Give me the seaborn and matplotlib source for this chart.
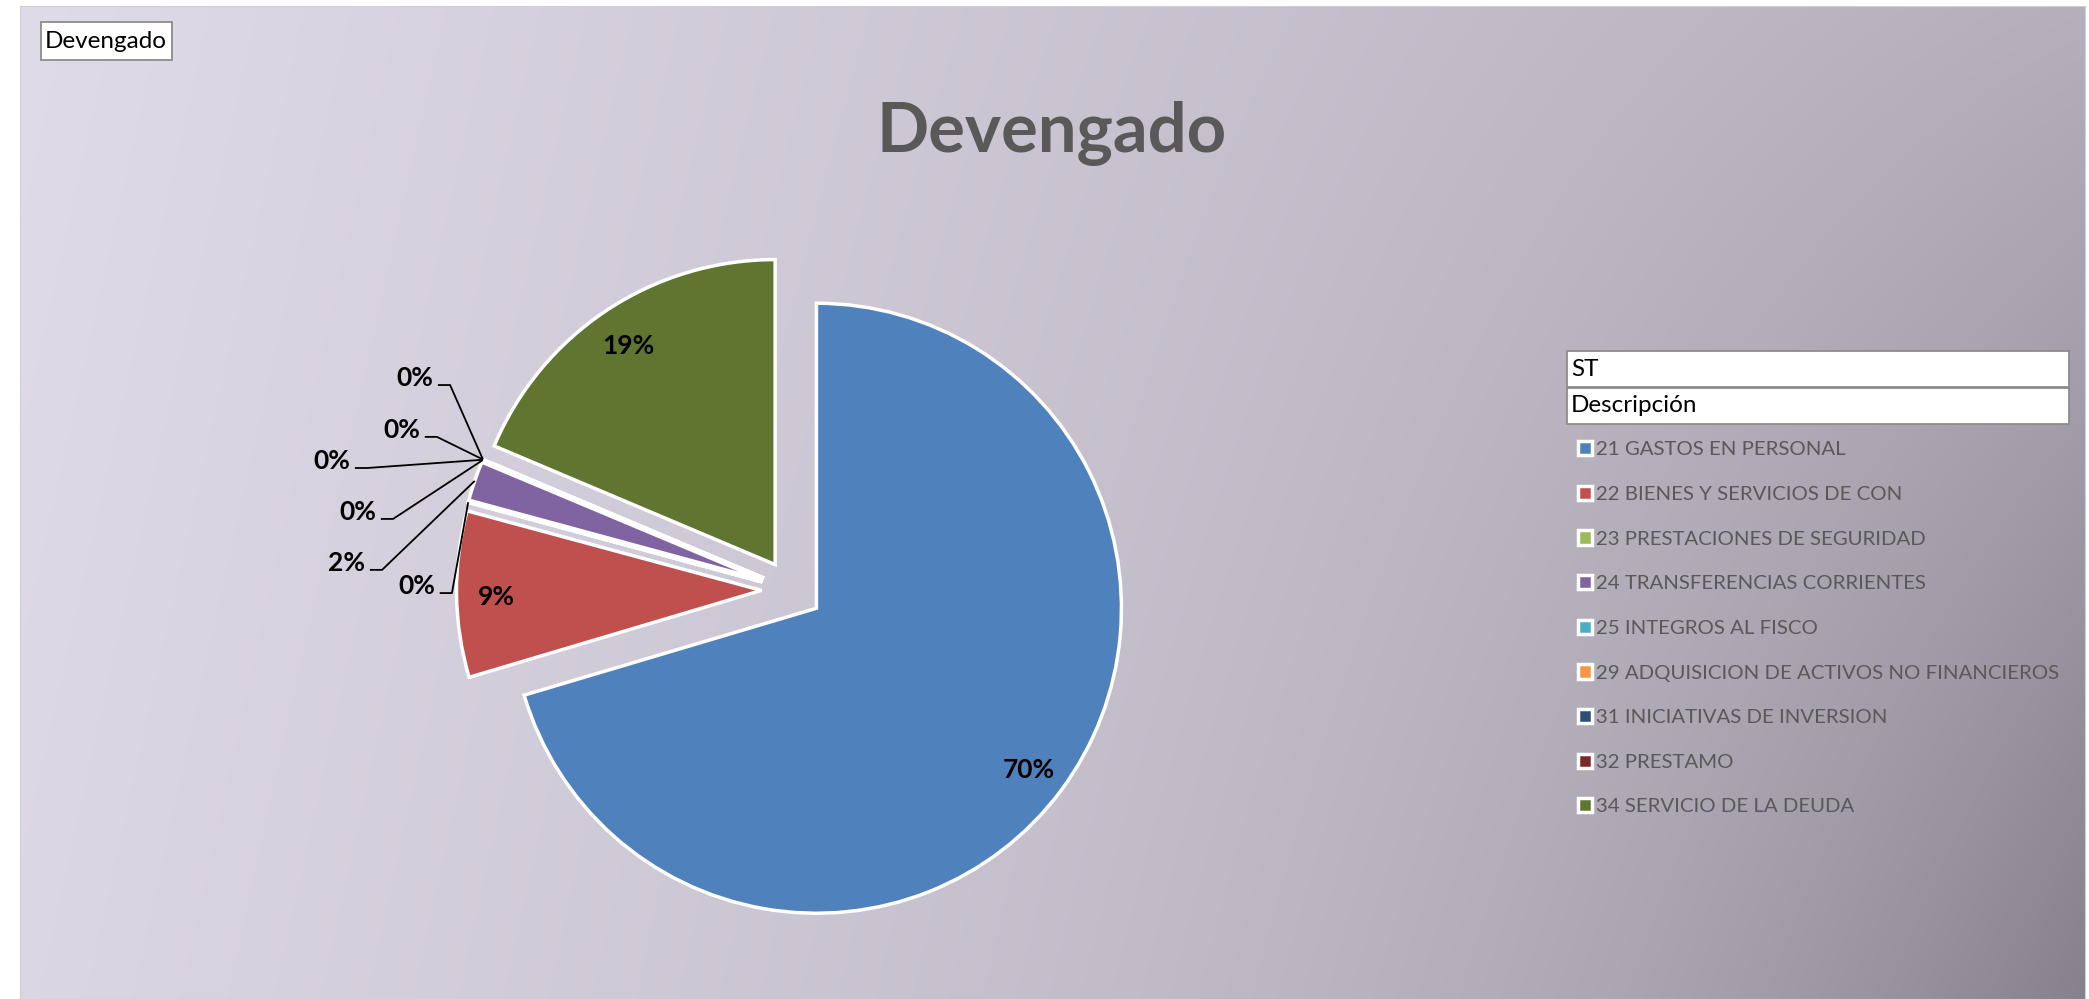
import numpy as np
import matplotlib
matplotlib.use('Agg')
import matplotlib.pyplot as plt
import matplotlib.patches as mpatches
import seaborn as sns

# data: share of "devengado" per subtitulo (percent of total)
categories = ['21 GASTOS EN PERSONAL', '22 BIENES Y SERVICIOS DE CON', '23 PRESTACIONES DE SEGURIDAD',
              '24 TRANSFERENCIAS CORRIENTES', '25 INTEGROS AL FISCO',
              '29 ADQUISICION DE ACTIVOS NO FINANCIEROS', '31 INICIATIVAS DE INVERSION',
              '32 PRESTAMO', '34 SERVICIO DE LA DEUDA']
devengado = [70.4, 8.8, 0.02, 2.1, 0.01, 0.03, 0.0, 0.0, 18.64]
slice_colors = ['#4F81BD', '#C0504D', '#9BBB59', '#8064A2', '#4BACC6',
                '#F79646', '#2C4D75', '#772C2A', '#5F7530']

# leader-line elbow positions for the small slices (pie data units)
outside_pos = {2: (-1.115, -0.010), 3: (-1.344, 0.066), 4: (-1.308, 0.233),
               5: (-1.393, 0.400), 6: (-1.164, 0.502), 7: (-1.121, 0.672)}

sns.set_style('white')
plt.rcParams['font.family'] = ['Lato', 'DejaVu Sans']

W, H = 2089, 999
fig = plt.figure(figsize=(W / 100, H / 100), dpi=100)
fig.patch.set_facecolor('white')

# gradient chart area
bg = fig.add_axes([20 / W, 0, 2065 / W, 993 / H])
u = np.linspace(0, 1, 700)[None, :]
v = np.linspace(0, 1, 350)[:, None]
s = 0.47 * u + v * (0.05 + 0.45 * u ** 4)
light = np.array([224, 219, 232]) / 255
dark = np.array([131, 126, 136]) / 255
bg.imshow(light + s[..., None] * (dark - light), aspect='auto', interpolation='bilinear')
bg.set_xticks([])
bg.set_yticks([])
for sp in bg.spines.values():
  sp.set_color('#d0d0d0')

# pie
ax = fig.add_axes([182 / W, -48.5 / H, 1220 / W, 915 / H])
palette = sns.color_palette(slice_colors)
wedges, _ = ax.pie(devengado, colors=palette, startangle=90, counterclock=False,
                   explode=[0.1] * len(devengado),
                   wedgeprops=dict(edgecolor='white', linewidth=2.5))
ax.set_xlim(-2, 2)
ax.set_ylim(-1.5, 1.5)
ax.set_aspect('equal')
ax.axis('off')

total = sum(devengado)
for i, wdg in enumerate(wedges):
  pct = devengado[i] / total * 100
  mid = np.deg2rad((wdg.theta1 + wdg.theta2) / 2)
  cx, cy = wdg.center
  dx, dy = np.cos(mid), np.sin(mid)
  txt = f'{pct:.0f}%'
  if i in outside_pos:
    ex, ey = outside_pos[i]
    tip = (cx + wdg.r * dx, cy + wdg.r * dy)
    ax.plot([ex - 0.04, ex, tip[0]], [ey, ey, tip[1]], color='black', lw=1.3,
            solid_capstyle='butt')
    ax.text(ex - 0.055, ey + 0.023, txt, ha='right', va='center', fontsize=19,
            fontweight='bold', color='black')
  else:
    ax.text(cx + 0.87 * dx, cy + 0.87 * dy - 0.01, txt, ha='center', va='center',
            fontsize=19, fontweight='bold', color='black')

# title
fig.text(1052 / W, 1 - 134 / H, 'Devengado', ha='center', va='center', fontsize=49.5,
         fontweight='bold', color='#595959')


def label_box(x0, y0, x1, y1, label, fs):
  fig.add_artist(mpatches.Rectangle((x0 / W, 1 - y1 / H), (x1 - x0) / W, (y1 - y0) / H,
                                    transform=fig.transFigure, facecolor='white',
                                    edgecolor='#8c8c8c', lw=1.3))
  fig.text((x0 + 4) / W, 1 - (y0 + y1) / 2 / H, label, ha='left', va='center',
           fontsize=fs, color='black')


label_box(41, 22, 172, 60, 'Devengado', 17.5)
label_box(1567, 351, 2069, 387, 'ST', 17.5)
label_box(1567, 388, 2069, 424, 'Descripción', 17.5)

leg = fig.legend(wedges, categories, loc='upper left', bbox_to_anchor=(1578 / W, 1 - 441 / H),
                 frameon=False, fontsize=14.7, handlelength=0.7, handleheight=0.7,
                 handletextpad=0.2, labelspacing=1.34, borderpad=0, borderaxespad=0)
for t in leg.get_texts():
  t.set_color('#595959')

plt.savefig('out.png', dpi=100)
plt.close()
